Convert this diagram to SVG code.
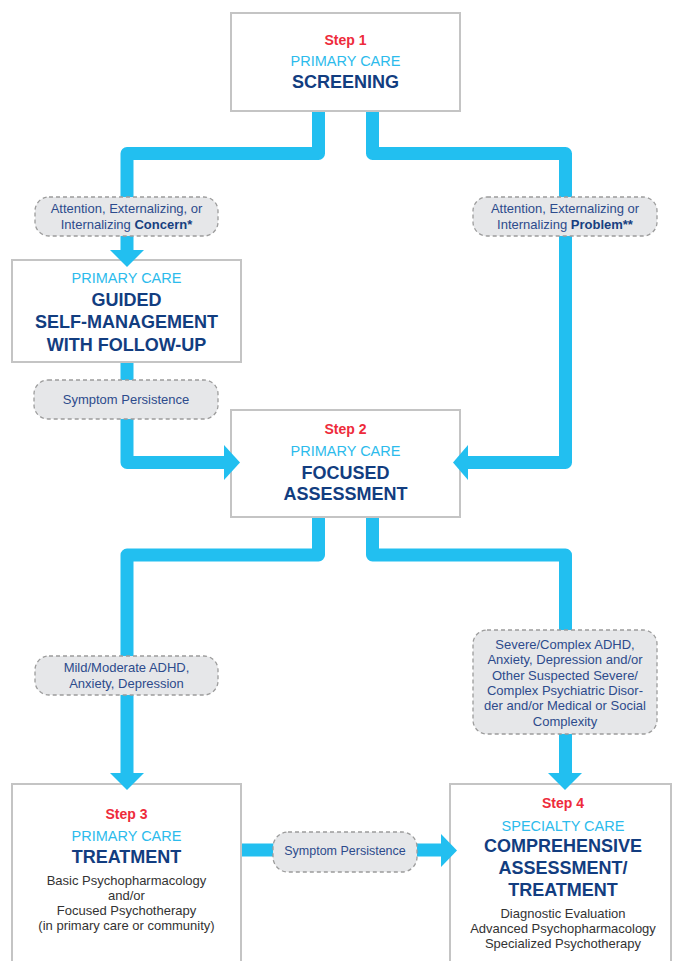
<svg xmlns="http://www.w3.org/2000/svg" width="673" height="961" viewBox="0 0 673 961">
<style>
.box{fill:#fff;stroke:#c4c4c4;stroke-width:2}
.lbl{fill:#e6e7e9;stroke:#9c9c9c;stroke-width:1.3;stroke-dasharray:4 3}
.conn{fill:none;stroke:#22bff0;stroke-width:13;stroke-linejoin:round}
.head{fill:#22bff0}
text{font-family:"Liberation Sans",Arial,sans-serif;text-anchor:middle}
.step{fill:#ee2b3b;font-weight:bold;font-size:14px}
.care{fill:#2cbbec;font-size:14.5px}
.title{fill:#123d80;font-weight:bold;font-size:18px}
.body{fill:#333;font-size:13px}
.lt{fill:#2d4b8c;font-size:13px}
.lt tspan.b{font-weight:bold;fill:#173f80}
</style>
<rect width="673" height="961" fill="#fff"/>
<g id="step1">
<rect class="box" x="231" y="13" width="229" height="98"/>
<text class="step" x="345.5" y="45">Step 1</text>
<text class="care" x="345.5" y="66">PRIMARY CARE</text>
<text class="title" x="345.5" y="88">SCREENING</text>
</g>
<g id="guided">
<rect class="box" x="12" y="260" width="229" height="102"/>
<text class="care" x="126.5" y="283">PRIMARY CARE</text>
<text class="title" x="126.5" y="306">GUIDED</text>
<text class="title" x="126.5" y="328">SELF-MANAGEMENT</text>
<text class="title" x="126.5" y="351">WITH FOLLOW-UP</text>
</g>
<g id="step2">
<rect class="box" x="231" y="410" width="229" height="107"/>
<text class="step" x="345.5" y="434">Step 2</text>
<text class="care" x="345.5" y="456">PRIMARY CARE</text>
<text class="title" x="345.5" y="479">FOCUSED</text>
<text class="title" x="345.5" y="500">ASSESSMENT</text>
</g>
<g id="step3">
<rect class="box" x="12" y="784" width="229" height="190"/>
<text class="step" x="126.5" y="819">Step 3</text>
<text class="care" x="126.5" y="841">PRIMARY CARE</text>
<text class="title" x="126.5" y="863">TREATMENT</text>
<text class="body" x="126.5" y="885">Basic Psychopharmacology</text>
<text class="body" x="126.5" y="900">and/or</text>
<text class="body" x="126.5" y="915">Focused Psychotherapy</text>
<text class="body" x="126.5" y="930">(in primary care or community)</text>
</g>
<g id="step4">
<rect class="box" x="450" y="784" width="221" height="190"/>
<text class="step" x="563" y="808">Step 4</text>
<text class="care" x="563" y="831">SPECIALTY CARE</text>
<text class="title" x="563" y="852">COMPREHENSIVE</text>
<text class="title" x="563" y="874">ASSESSMENT/</text>
<text class="title" x="563" y="896">TREATMENT</text>
<text class="body" x="563" y="918">Diagnostic Evaluation</text>
<text class="body" x="563" y="933">Advanced Psychopharmacology</text>
<text class="body" x="563" y="948">Specialized Psychotherapy</text>
</g>
<g id="connectors">
<path class="conn" d="M318.5 112 V153.5 H127 V253"/>
<polygon class="head" points="110,250 144,250 127,267"/>
<path class="conn" d="M372.5 112 V153.5 H565.5 V462.5 H465"/>
<polygon class="head" points="468,445 468,480 453,462.5"/>
<path class="conn" d="M127 363 V462.5 H227"/>
<polygon class="head" points="224,445 224,480 240,462.5"/>
<path class="conn" d="M318.5 518 V555 H127 V776"/>
<polygon class="head" points="110,773 144,773 127,790"/>
<path class="conn" d="M372.5 518 V555 H565.5 V776"/>
<polygon class="head" points="548,773 582,773 565,790"/>
<path class="conn" d="M242 850 H444"/>
<polygon class="head" points="441,834 441,867 457,850.5"/>
</g>
<g id="label-concern">
<rect class="lbl" x="35" y="197" width="183" height="39" rx="14"/>
<text class="lt" x="126.5" y="213">Attention, Externalizing, or</text>
<text class="lt" x="126.5" y="229">Internalizing <tspan class="b">Concern*</tspan></text>
</g>
<g id="label-problem">
<rect class="lbl" x="473" y="197" width="184" height="39" rx="14"/>
<text class="lt" x="565" y="213">Attention, Externalizing or</text>
<text class="lt" x="565" y="229">Internalizing <tspan class="b">Problem**</tspan></text>
</g>
<g id="label-persist1">
<rect class="lbl" x="34" y="380" width="184" height="39" rx="14"/>
<text class="lt" x="126" y="404">Symptom Persistence</text>
</g>
<g id="label-mild">
<rect class="lbl" x="35" y="656" width="183" height="39" rx="14"/>
<text class="lt" x="126.5" y="672">Mild/Moderate ADHD,</text>
<text class="lt" x="126.5" y="688">Anxiety, Depression</text>
</g>
<g id="label-severe">
<rect class="lbl" x="473" y="630" width="184" height="104" rx="14"/>
<text class="lt" x="565" y="649">Severe/Complex ADHD,</text>
<text class="lt" x="565" y="664">Anxiety, Depression and/or</text>
<text class="lt" x="565" y="680">Other Suspected Severe/</text>
<text class="lt" x="565" y="695">Complex Psychiatric Disor-</text>
<text class="lt" x="565" y="710">der and/or Medical or Social</text>
<text class="lt" x="565" y="726">Complexity</text>
</g>
<g id="label-persist2">
<rect class="lbl" x="273" y="832" width="144" height="40" rx="15"/>
<text class="lt" x="345" y="855" style="font-size:12.5px">Symptom Persistence</text>
</g>
</svg>
